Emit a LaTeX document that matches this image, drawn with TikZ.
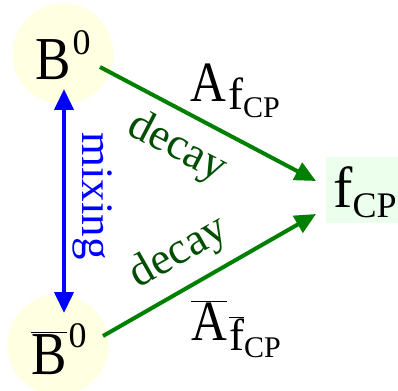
\documentclass[tikz,border=0pt]{standalone}
\usepackage{fontspec}
\setmainfont{Liberation Serif}
\usetikzlibrary{arrows.meta}
\definecolor{circfill}{RGB}{255,255,226}
\definecolor{boxfill}{RGB}{236,255,236}
\definecolor{arrgreen}{RGB}{0,128,0}
\definecolor{txtgreen}{RGB}{0,78,0}
\newcommand{\bigsz}{\fontsize{61}{61}\selectfont}
\newcommand{\ampsz}{\fontsize{57}{57}\selectfont}
\newcommand{\subsz}{\fontsize{45}{45}\selectfont}
\newcommand{\subsubsz}{\fontsize{30}{30}\selectfont}
\newcommand{\supsz}{\fontsize{36}{36}\selectfont}
\newcommand{\narrow}[1]{\scalebox{0.87}[1]{#1}}
\tikzset{
  x=1pt,y=-1pt,
  particle/.style={circle,fill=circfill,minimum size=101pt,inner sep=0pt},
  lbl/.style={inner sep=0pt,anchor=base west},
  greenarrow/.style={draw=arrgreen,line width=4pt,-{Triangle[length=21pt,width=19pt]}},
  bluearrow/.style={draw=blue,line width=4pt,{Triangle[length=21pt,width=19pt]}-{Triangle[length=21pt,width=19pt]}},
  decaylbl/.style={text=txtgreen,font=\fontsize{45}{45}\selectfont,inner sep=0pt},
  mixlbl/.style={text=blue,font=\fontsize{45}{45}\selectfont,inner sep=0pt,rotate=-90}
}
\begin{document}
\begin{tikzpicture}
\useasboundingbox (0,0) rectangle (398,390);
\fill[white] (0,0) rectangle (398,390);
% nodes
\node[particle] (b) at (63,54) {};
\node[particle] (bb) at (58,345) {};
\fill[boxfill] (326,157) rectangle (398,223);
\node[lbl] (bt) at (35,80) {\narrow{\bigsz B}\kern2pt\raisebox{25pt}{\supsz 0}};
\node[lbl] (bbt) at (31,374) {$\overline{\hbox{\narrow{\bigsz B}}}$\kern2pt\raisebox{27pt}{\supsz 0}};
\node[lbl] (f) at (333,207) {\fontsize{58}{58}\selectfont f\raisebox{-10pt}{\fontsize{36}{36}\selectfont CP}};
% connector ends
\coordinate (s1) at (100,67);
\coordinate (e1) at (316,181);
\coordinate (s2) at (103,336);
\coordinate (e2) at (316,214);
\coordinate (m1) at (64,89);
\coordinate (m2) at (64,313);
\draw[greenarrow] (s1) -- (e1);
\draw[greenarrow] (s2) -- (e2);
\draw[bluearrow] (m1) -- (m2);
% labels
\node[mixlbl] (mix) at (93,196) {mixing};
\node[decaylbl,rotate=-27.5] (d1) at (177,148) {decay};
\node[decaylbl,rotate=29.5] (d2) at (179,253) {decay};
\node[lbl] (a1) at (190,102) {\narrow{\ampsz A}\kern2pt\raisebox{-8pt}{\subsz f\raisebox{-8pt}{\subsubsz CP}}};
\node[lbl] (a2) at (191,340) {$\overline{\hbox{\narrow{\ampsz A}}}$\kern2pt\raisebox{-10pt}{$\overline{\hbox{\subsz f}}$\raisebox{-7pt}{\subsubsz CP}}};
\end{tikzpicture}
\end{document}
